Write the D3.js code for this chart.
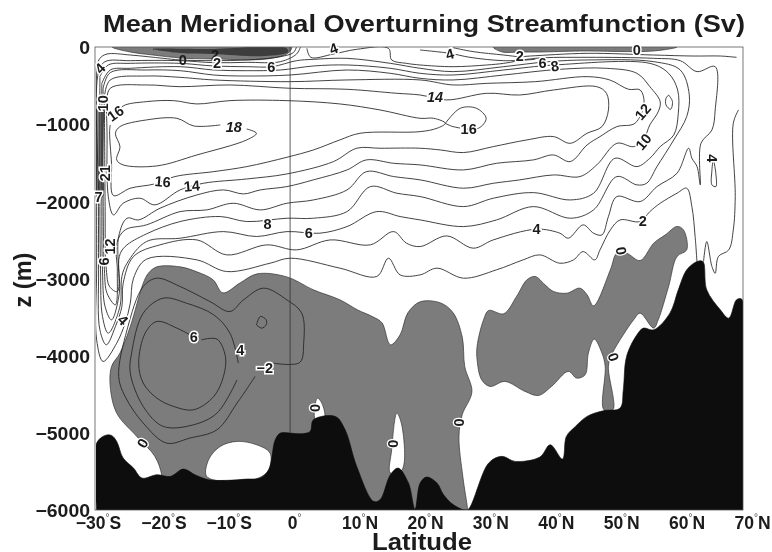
<!DOCTYPE html>
<html><head><meta charset="utf-8">
<script src="https://cdn.jsdelivr.net/npm/d3@7/dist/d3.min.js"></script>
<style>html,body{margin:0;padding:0;background:#fff}svg{display:block}text{font-family:"Liberation Sans",Arial,sans-serif;font-weight:bold;fill:#1a1a1a}</style>
</head><body><div id="c"></div>
<script>
const depthTicks=[0,-1000,-2000,-3000,-4000,-5000,-6000];
const depthLabels=["0","\u22121000","\u22122000","\u22123000","\u22124000","\u22125000","\u22126000"];
const latTicks=[-30,-20,-10,0,10,20,30,40,50,60,70];
const latNumbers=["\u221230","\u221220","\u221210","0","10","20","30","40","50","60","70"];
const latHemis=["S","S","S","","N","N","N","N","N","N","N"];

const bathymetry=[[-29.9,-6000],[-29.9,-5133],[-28.6,-5034],[-27.6,-5034],[-26.8,-5111],[-25.8,-5327],[-24.2,-5457],[-22.9,-5586],[-20.6,-5543],[-18.5,-5565],[-16.5,-5470],[-14.7,-5543],[-12.6,-5608],[-9.8,-5616],[-6.7,-5599],[-4.6,-5586],[-3.3,-5478],[-2.3,-5090],[-1.5,-5003],[0,-5003],[1.5,-5012],[3.1,-4982],[3.6,-4831],[7,-4788],[8.5,-4960],[10.3,-5435],[12.9,-5888],[13.9,-5867],[15.5,-5543],[16.7,-5457],[18.3,-5651],[19.3,-5990],[20.1,-5650],[21.1,-5573],[22.7,-5650],[23.7,-5800],[25.2,-5930],[27,-6000],[27.6,-5987],[30.7,-5391],[32.7,-5305],[34.8,-5370],[38.6,-5314],[40.2,-5154],[42.1,-5340],[42.7,-5046],[44.1,-4917],[45.9,-4787],[48.4,-4714],[51,-4679],[51.5,-4442],[52,-4010],[53.6,-3730],[54.6,-3643],[56.2,-3665],[58.7,-3449],[60,-3147],[61.3,-2888],[62.9,-2780],[63.8,-2780],[64.4,-3147],[66.5,-3406],[67.8,-3514],[69,-3276],[69.8,-3267],[70,-6000]];
const negMain=[[-19.8,-5565],[-20.9,-5306],[-23.7,-5047],[-26.8,-4744],[-27.8,-4399],[-27.6,-4140],[-26.3,-3967],[-24.7,-3622],[-22.7,-3061],[-21.9,-2931],[-20.6,-2849],[-17,-2849],[-14.4,-2914],[-11.9,-3017],[-10.4,-3186],[-7.7,-3056],[-5.1,-2940],[-0.5,-2979],[3.6,-3147],[7.7,-3276],[10.4,-3406],[12.8,-3497],[14.2,-3574],[15.5,-3859],[17,-3730],[18.2,-3445],[20.1,-3302],[23.2,-3315],[25.2,-3445],[26.6,-3756],[27,-4144],[28.1,-4468],[26.6,-4766],[26.1,-5050],[26.7,-5569],[27.4,-5970],[27.4,-6000],[-19.8,-6000]];
const negRight=[[28.9,-3880],[29.9,-3535],[30.7,-3414],[33,-3457],[35,-3233],[36.6,-3017],[37.9,-2974],[39.4,-3082],[40.7,-3168],[42.8,-3190],[44.8,-3125],[45.9,-3211],[46.9,-3354],[49.5,-2888],[50.5,-2672],[52,-2672],[54.1,-2767],[56.2,-2542],[58,-2434],[59.8,-2326],[60.8,-2370],[61.3,-2629],[59.8,-2715],[58.5,-3103],[56.9,-3535],[56.2,-3643],[54.1,-3449],[53.1,-3535],[51.5,-3729],[49.7,-3988],[49.2,-4140],[49.9,-4701],[48.5,-4701],[48.7,-4140],[48.2,-3967],[47,-3785],[46.1,-3967],[45.6,-4247],[44.3,-4291],[43,-4204],[40.4,-4399],[38.4,-4515],[36.3,-4463],[33.2,-4334],[30.9,-4399],[29.6,-4312],[28.9,-4053]];
const negTopLeft=[[-27.5,0],[-24.7,-65],[-21.2,-104],[-17,-142],[-11.9,-155],[-3.6,-155],[-0.3,-78],[0.2,0]];
const negTopRight=[[31.4,0],[32.8,-65],[35.5,-65],[38.6,-65],[44.8,-52],[56.1,-52],[59.8,0]];
const negStrip=[[-29.8,-777],[-29,-777],[-28.9,-1075],[-29,-1502],[-29,-1943],[-29.7,-1943]];
const darkTopLeft=[[-21.2,-26],[-17,-78],[-11.9,-91],[-3.9,-117],[-0.3,-65],[-0.6,-13],[-12.4,-26]];
const holeA=[[-12.9,-5564],[-12.6,-5349],[-10.8,-5176],[-8.2,-5111],[-5.2,-5154],[-3.1,-5262],[-3.3,-5478],[-4.9,-5586],[-9.8,-5629]];
const holeB=[[3.9,-4831],[4.2,-4550],[4.9,-4615],[5.3,-4809]];
const holeC=[[15.5,-5521],[15.7,-5219],[16.5,-4744],[17.3,-4917],[17.3,-5478]];

const line2=[[1,0],[0.5,-73],[-1.5,-125],[-6.7,-168],[-11.8,-177],[-17,-168],[-19.6,-147],[-24.7,-104],[-28.3,-91],[-29.4,-147],[-29.8,-255],[-29.9,-1938],[-29.9,-2888],[-29.9,-3795],[-28.9,-4075],[-26.8,-3838],[-25.5,-3579],[-24.7,-3320],[-24.2,-2996],[-22.2,-2750],[-14.4,-2759],[-9.8,-2910],[-3.1,-2802],[0,-2737],[7.7,-2866],[13.4,-2974],[15.2,-2737],[17,-2953],[20.1,-2953],[22.7,-2866],[26.8,-2996],[31.9,-2888],[36,-2759],[38.6,-2694],[41.7,-2802],[43.8,-2759],[45.3,-2651],[47.1,-2759],[47.9,-2629],[49.5,-2370],[51,-2241],[54.1,-2262],[55.6,-2133],[57.2,-2025],[59.8,-1895],[61.3,-1830],[62.1,-2068],[62.6,-2456],[62.9,-2802]];
const line2Right=[[25.2,-9],[28.3,-60],[33,-104],[35.5,-125],[37.1,-117],[45.9,-82],[56.2,-104],[62.3,-117],[66.5,-117],[69,-134]];
const line4=[[1.6,0],[1,-91],[-1.5,-190],[-6.7,-199],[-11.8,-203],[-17,-177],[-24.7,-177],[-28.6,-190],[-29.6,-320],[-29.6,-1938],[-29.6,-2888],[-29.4,-3665],[-28.4,-3859],[-27,-3622],[-26,-3363],[-25.8,-3061],[-24.2,-2715],[-20.1,-2564],[-14.4,-2500],[-9.8,-2694],[-3.6,-2564],[1,-2629],[6.2,-2500],[12.4,-2564],[16,-2392],[18,-2543],[20.1,-2586],[24.2,-2448],[28.3,-2607],[31.4,-2500],[38.1,-2361],[41.7,-2413],[43,-2478],[45.3,-2305],[46.9,-2413],[48.2,-2435],[49.2,-2197],[50.5,-1938],[54.1,-2003],[56.7,-1809],[59.8,-1636],[61.6,-1312],[62.1,-1442],[62.9,-1550],[63.4,-1787],[63.5,-1248],[65.2,-1075],[65.7,-816],[65.7,-255],[62.9,-319],[60.3,-177],[56.2,-147],[45.9,-134],[37.9,-147],[33,-212],[30.4,-233],[25.2,-255],[20.1,-233],[18,-212],[15.7,-168],[15.2,-17],[10.3,-30],[6.7,-91],[3.2,-134],[2.6,-17]];
const line4Upper=[[20.1,-39],[24.7,-82],[27.8,-134],[33,-177],[37.9,-160]];
const line6=[[-29.4,-384],[-28.1,-233],[-24.7,-212],[-17,-212],[-11.8,-246],[-6.7,-255],[-2.8,-255],[1,-177],[3.6,-160],[8.8,-147],[15.5,-212],[20.1,-276],[25.2,-319],[33,-255],[39.9,-190],[45.9,-168],[56.2,-190],[60.3,-298],[61.7,-622],[61.3,-902],[59.3,-1204],[56.7,-1550],[55.1,-1766],[53.6,-1787],[50.5,-1679],[46.9,-2111],[43.3,-2219],[37.6,-2068],[31.9,-2241],[26.8,-2327],[20.1,-2241],[17,-2197],[13.4,-2133],[8.8,-2327],[4.6,-2413],[-0.5,-2392],[-5.2,-2456],[-10.3,-2392],[-17,-2478],[-22.2,-2521],[-25.2,-2802],[-26,-2974],[-26.3,-3363],[-28.1,-3708],[-29,-3492],[-29.3,-2888],[-29.4,-1938],[-29.4,-384]];
const line8=[[-29.1,-471],[-27.8,-298],[-24.7,-276],[-17,-255],[-11.8,-298],[-6.7,-307],[-1.5,-298],[3.6,-246],[8.8,-233],[15.5,-276],[20.1,-341],[25.2,-363],[33,-298],[40.9,-233],[55.6,-212],[58.5,-341],[59.9,-557],[60,-859],[59.3,-1140],[57.2,-1291],[55.6,-1442],[53.6,-1550],[50.2,-1442],[46.9,-1895],[43.3,-1982],[37.6,-1887],[31.4,-1960],[26.8,-2068],[20.1,-1938],[16.5,-1895],[12.4,-1809],[8.8,-2133],[3.6,-2219],[-0.5,-2219],[-6.7,-2262],[-10.8,-2197],[-17,-2262],[-22.2,-2422],[-25.5,-2586],[-26.4,-2715],[-26.4,-3190],[-27.6,-3536],[-28.6,-3363],[-29,-2888],[-29.1,-1938],[-29.1,-471]];
const line10=[[-28.9,-535],[-27.8,-332],[-22.2,-298],[-17,-307],[-11.8,-363],[-6.7,-376],[0,-363],[8.8,-298],[15.5,-341],[20.1,-406],[25.2,-427],[33,-363],[41.7,-289],[48.9,-276],[53.6,-341],[55.6,-514],[57.2,-708],[56.9,-838],[55.6,-1010],[54.6,-1204],[53.1,-1291],[50.5,-1248],[47.4,-1528],[44.8,-1679],[40.7,-1658],[35.5,-1722],[31.4,-1766],[26.8,-1830],[20.1,-1722],[16,-1679],[11.8,-1615],[8.8,-1852],[3.6,-1982],[-0.5,-2025],[-4.6,-2111],[-8.8,-2025],[-12.9,-2111],[-17,-2133],[-22.2,-2305],[-25.5,-2370],[-26.8,-2543],[-26.7,-2910],[-27,-3341],[-28.3,-3190],[-28.7,-2888],[-28.9,-1938],[-28.9,-535]];
const line12=[[-28.7,-643],[-27.8,-427],[-22.2,-376],[-17,-393],[-11.8,-427],[0,-449],[8.8,-427],[20.1,-427],[25.2,-492],[30.4,-471],[37.9,-449],[45.9,-384],[49.4,-427],[52.3,-548],[54.1,-557],[54.7,-730],[53.3,-989],[50.5,-1032],[47.9,-1161],[45.9,-1269],[43.3,-1485],[40.7,-1399],[37.6,-1463],[31.9,-1507],[26.8,-1593],[20.1,-1528],[16,-1507],[11.8,-1463],[8.8,-1593],[3.6,-1722],[-0.5,-1809],[-4.6,-1852],[-7.2,-1904],[-10.3,-1852],[-14.4,-1917],[-20.1,-2089],[-23.4,-2240],[-25.2,-2219],[-26.5,-2456],[-26.7,-3169],[-27.9,-3104],[-28.4,-2888],[-28.6,-1938],[-28.7,-643]];
const line14=[[-28.4,-773],[-27.8,-535],[-22.2,-492],[-17,-514],[-9.3,-492],[0,-535],[8.8,-548],[16.5,-600],[20.1,-622],[24.2,-686],[30.4,-600],[35.5,-622],[40.7,-557],[47.4,-514],[48.9,-600],[49.2,-816],[48.2,-1032],[45.9,-1118],[43.3,-1248],[40.7,-1161],[36.6,-1204],[31.4,-1291],[26.8,-1368],[23.2,-1334],[20.1,-1312],[13.9,-1312],[10.3,-1312],[6.7,-1485],[-0.5,-1645],[-6.7,-1710],[-13.4,-1766],[-17,-1852],[-20.9,-2046],[-23.2,-1960],[-25.8,-2025],[-27.3,-2176],[-28.1,-1938],[-28.3,-1075],[-28.4,-773]];
const line16=[[-27,-881],[-25.8,-764],[-22.2,-708],[-18,-695],[-14.4,-738],[-9.3,-695],[-0.5,-695],[7.7,-738],[13.9,-816],[20.1,-924],[22.2,-924],[24,-989],[22.7,-1053],[20.1,-1097],[10.8,-1118],[7.7,-1204],[3.6,-1334],[-0.5,-1429],[-6.7,-1550],[-11.8,-1615],[-17.8,-1679],[-20.9,-1774],[-24.7,-1830],[-27.3,-1925],[-27.6,-1507],[-27.9,-1097],[-27.8,-1010]];
const line16Loop=[[24,-989],[26.3,-794],[28.8,-794],[30.3,-924],[29.1,-1053],[25.2,-1032],[24,-989]];
const line18=[[-6.7,-1062],[-5.2,-1118],[-6.7,-1204],[-14.4,-1399],[-20.6,-1541],[-25.8,-1528],[-26.8,-1463],[-26.3,-1291],[-27,-1118],[-26.3,-1032],[-22.2,-945],[-17.5,-924],[-14.9,-1023],[-10.8,-1010]];
const loopEast=[[58.5,-622],[59.1,-708],[58.8,-807],[58.1,-751],[58.1,-665],[58.5,-622]];
const loopNorth=[[65.4,-1442],[65.8,-1636],[65.8,-1809],[65.2,-1787],[65.2,-1593],[65.4,-1442]];
const lineZeroNorth=[[69.3,-816],[68.5,-989],[68.8,-1938],[68.5,-2370],[67.8,-2629],[66.2,-2715],[65.7,-2932],[65.2,-2845],[64.4,-2521],[63.9,-2780]];
const lineNeg2=[[-2.6,-4097],[1.5,-4088],[2.1,-3838],[1.8,-3449],[-0.5,-3277],[-4.1,-3125],[-7.2,-3277],[-9.3,-3428],[-12.4,-3298],[-17,-3104],[-20.6,-2996],[-22.7,-3104],[-25.2,-3665],[-26.5,-4269],[-25.5,-4529],[-22.7,-4874],[-19.1,-5133],[-15.5,-5068],[-11.3,-4960],[-8.2,-4615],[-5.4,-4269]];
const lineNeg4=[[-8,-4097],[-9.3,-3708],[-11.8,-3471],[-16,-3320],[-19.6,-3255],[-22.7,-3449],[-24.5,-3967],[-24.7,-4226],[-22.7,-4658],[-19.6,-4917],[-14.9,-4895],[-11.3,-4744],[-8.2,-4313]];
const lineNeg6=[[-13.7,-3795],[-11.3,-3786],[-10,-4010],[-10.3,-4269],[-11.8,-4529],[-14.9,-4701],[-18,-4658],[-20.6,-4550],[-22.7,-4356],[-23.4,-4097],[-22.4,-3708],[-20.6,-3557],[-17.5,-3643],[-15.5,-3730]];
const loopNeg=[[-5.2,-3600],[-4.6,-3492],[-3.7,-3536],[-3.7,-3600],[-4.4,-3644],[-5.2,-3600]];
const equator=[[0,0],[0,-5003]];
const contourLines=[line2,line2Right,line4,line4Upper,line6,line8,line10,line12,line14,line16,line16Loop,line18,loopEast,loopNorth,lineZeroNorth,lineNeg2,lineNeg4,lineNeg6,loopNeg];

const labelText=["0","2","2","6","4","4","2","6","8","0","14","18","16","16","16","14","8","6","4","2","12","10","0","10","21","7","12","6","4","4","4","6","\u22122","0","0","0","0","0","4"];
const labelLat=[-16.6,-11.6,-11.3,-2.9,6.7,24.7,35.5,39,40.9,53.6,22.4,-8.7,27.6,-27,-19.7,-15.2,-3.5,2.9,38.1,54.5,54.5,54.6,51.2,-28.9,-28.7,-29.6,-27.8,-28.8,-29.4,-25.8,-7.7,-14.9,-3.9,-22.8,3.9,15.9,26.2,50,65.3];
const labelZ=[-160,-104,-210,-255,-20,-90,-110,-203,-245,-39,-643,-1032,-1066,-859,-1744,-1800,-2297,-2413,-2361,-2249,-838,-1226,-2642,-730,-1636,-1938,-2586,-2780,-276,-3536,-3924,-3751,-4161,-5133,-4680,-5141,-4865,-4018,-1442];
const labelRot=[0,0,0,0,-20,-15,0,0,-10,0,0,0,0,-35,5,-5,0,0,0,0,-50,-50,80,-90,-90,0,-90,-90,-45,45,0,0,0,-60,90,90,90,70,90];

const W=772,H=552;
const x=d3.scaleLinear().domain([-30,70]).range([96,743]);
const y=d3.scaleLinear().domain([0,-6000]).range([47,510]);
const tickX=d3.scaleLinear().domain([-30,70]).range([98,752]);
const svg=d3.select("#c").append("svg").attr("width",W).attr("height",H);
const defs=svg.append("defs");
defs.append("filter").attr("id","soft").attr("x","-5%").attr("y","-5%").attr("width","110%").attr("height","110%")
  .append("feGaussianBlur").attr("stdDeviation",0.45);
defs.append("clipPath").attr("id","plot").append("rect").attr("x",x(-30)).attr("y",y(0)).attr("width",x(70)-x(-30)).attr("height",y(-6000)-y(0));

const root=svg.append("g").attr("filter","url(#soft)");
const g=root.append("g").attr("clip-path","url(#plot)");
const smooth=d3.line().x(d=>x(d[0])).y(d=>y(d[1])).curve(d3.curveCatmullRom.alpha(0.5));
const smoothClosed=d3.line().x(d=>x(d[0])).y(d=>y(d[1])).curve(d3.curveCatmullRomClosed.alpha(0.5));

[negMain,negRight,negTopLeft,negTopRight,negStrip].forEach(p=>g.append("path").attr("d",smoothClosed(p)).attr("fill","#7c7c7c").attr("stroke","#333").attr("stroke-width",0.7));
g.append("path").attr("d",smoothClosed(darkTopLeft)).attr("fill","#3c3c3c");
[holeA,holeB,holeC].forEach(p=>g.append("path").attr("d",smoothClosed(p)).attr("fill","#fff").attr("stroke","#333").attr("stroke-width",0.7));

g.selectAll("path.c").data(contourLines).join("path").attr("class","c").attr("d",smooth).attr("fill","none").attr("stroke","#222").attr("stroke-width",0.85);
g.append("path").attr("d",smooth(bathymetry)+"Z").attr("fill","#0a0a0a").attr("stroke","#0a0a0a").attr("stroke-width",0.6);
root.append("path").attr("d",d3.line().x(d=>x(d[0])).y(d=>y(d[1]))(equator)).attr("stroke","#333").attr("stroke-width",0.8);

root.append("rect").attr("x",x(-30)-1).attr("y",y(0)).attr("width",x(70)-x(-30)+1).attr("height",y(-6000)-y(0)).attr("fill","none").attr("stroke","#555").attr("stroke-width",0.8);

const labs=root.append("g");
labelText.forEach((t,i)=>{
  const isZeroInGray=t==="0"&&i>=22;
  const italic=(t==="14"&&i===10)||t==="18";
  const noHalo=i<10&&labelZ[i]>-170&&labelLat[i]<0;
  labs.append("text").text(t)
    .attr("transform",`translate(${x(labelLat[i])},${y(labelZ[i])}) rotate(${labelRot[i]})`)
    .attr("text-anchor","middle").attr("dy","0.36em")
    .attr("font-size",14.5)
    .style("font-style",italic?"italic":"normal")
    .style("paint-order","stroke").attr("stroke",noHalo?"none":"#fff").attr("stroke-width",isZeroInGray?2.5:3);
});

const yAxis=d3.axisLeft(y).tickValues(depthTicks).tickSize(0).tickPadding(0).tickFormat((d,i)=>depthLabels[i]);
const ya=svg.append("g").attr("transform","translate(90,1)").attr("filter","url(#soft)").call(yAxis);
ya.select(".domain").remove();
ya.selectAll("text").attr("font-size",18).attr("fill","#1a1a1a").style("font-family",'"Liberation Sans"').each(function(){this.setAttribute("textLength",this.getComputedTextLength()*1.08);this.setAttribute("lengthAdjust","spacingAndGlyphs");});

const xAxis=d3.axisBottom(tickX).tickValues(latTicks).tickSize(0).tickPadding(0).tickFormat("");
const xa=svg.append("g").attr("transform","translate(0,517)").attr("filter","url(#soft)").call(xAxis);
xa.select(".domain").remove();
xa.selectAll("g.tick text").each(function(d,i){
  const s=d3.select(this).text(null).attr("font-size",17.5).attr("fill","#1a1a1a").style("font-family",'"Liberation Sans"');
  s.append("tspan").text(latNumbers[i]);
  s.append("tspan").text("\u00b0").attr("font-size",10).attr("dy",-8).style("font-weight","normal").attr("fill","#555");
  if(latHemis[i]) s.append("tspan").text(latHemis[i]).attr("dy",8);
});

const t=svg.append("g").attr("filter","url(#soft)");
t.append("text").attr("x",424).attr("y",32).attr("text-anchor","middle").attr("font-size",23).attr("textLength",642).attr("lengthAdjust","spacingAndGlyphs").text("Mean Meridional Overturning Streamfunction (Sv)");
t.append("text").attr("x",422).attr("y",550).attr("text-anchor","middle").attr("font-size",23.5).attr("textLength",100).attr("lengthAdjust","spacingAndGlyphs").text("Latitude");
t.append("text").attr("transform","translate(31,280) rotate(-90)").attr("text-anchor","middle").attr("font-size",23.5).text("z (m)");
</script></body></html>
